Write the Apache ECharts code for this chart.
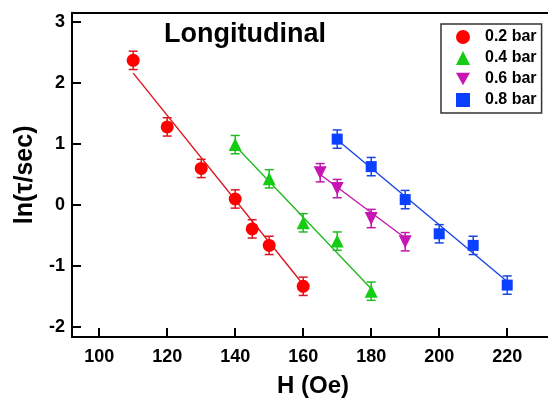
<!DOCTYPE html>
<html>
<head>
<meta charset="utf-8">
<script src="https://cdn.jsdelivr.net/npm/echarts@6/dist/echarts.min.js"></script>
<style>
html,body{margin:0;padding:0;background:#fff;}
#chart{width:548px;height:403px;}
</style>
</head>
<body>
<div id="chart"></div>
<script>
// ---- data ----
const seriesNames = ['0.2 bar', '0.4 bar', '0.6 bar', '0.8 bar'];
const xTicks = [100, 120, 140, 160, 180, 200, 220];
const yTicks = [-2, -1, 0, 1, 2, 3];

const h02 = [110, 120, 130, 140, 145, 150, 160];
const ln02 = [2.37, 1.28, 0.60, 0.10, -0.39, -0.66, -1.33];
const err02 = [0.15, 0.15, 0.15, 0.15, 0.15, 0.15, 0.15];

const h04 = [140, 150, 160, 170, 180];
const ln04 = [0.99, 0.43, -0.29, -0.59, -1.41];
const err04 = [0.15, 0.15, 0.15, 0.15, 0.15];

const h06 = [165, 170, 180, 190];
const ln06 = [0.53, 0.27, -0.22, -0.60];
const err06 = [0.15, 0.15, 0.15, 0.15];

const h08 = [170, 180, 190, 200, 210, 220];
const ln08 = [1.08, 0.63, 0.09, -0.47, -0.66, -1.31];
const err08 = [0.15, 0.15, 0.15, 0.15, 0.15, 0.15];

const fit02H = [110, 160], fit02Ln = [2.16, -1.30];
const fit04H = [140, 180], fit04Ln = [0.97, -1.37];
const fit06H = [165, 190], fit06Ln = [0.50, -0.54];
const fit08H = [170, 220], fit08Ln = [1.07, -1.25];

// ---- styling ----
const FONT = '"Liberation Sans", Arial, Helvetica, sans-serif';
const INV_TRI = 'path://M0,0L10,0L5,9Z';
const groups = [
  {name: seriesNames[0], h: h02, v: ln02, e: err02, fh: fit02H, fv: fit02Ln, color: '#ff0000', lineColor: '#dd1520', symbol: 'circle', size: 13, icon: 'circle'},
  {name: seriesNames[1], h: h04, v: ln04, e: err04, fh: fit04H, fv: fit04Ln, color: '#14cc14', lineColor: '#22bb22', symbol: 'triangle', size: 13, icon: 'triangle'},
  {name: seriesNames[2], h: h06, v: ln06, e: err06, fh: fit06H, fv: fit06Ln, color: '#c814b4', lineColor: '#c01aaa', symbol: INV_TRI, size: 13, icon: INV_TRI},
  {name: seriesNames[3], h: h08, v: ln08, e: err08, fh: fit08H, fv: fit08Ln, color: '#0a40ff', lineColor: '#1a46e0', symbol: 'rect', size: 11, icon: 'rect'}
];

const zip = (a, b) => a.map((x, i) => [x, b[i]]);
const zip3 = (a, b, c) => a.map((x, i) => [x, b[i], c[i]]);

const series = [];
groups.forEach(g => {
  series.push({
    name: g.name + ' fit',
    type: 'line',
    data: zip(g.fh, g.fv),
    symbol: 'none',
    silent: true,
    z: 1,
    lineStyle: {color: g.lineColor, width: 1.4}
  });
  series.push({
    name: g.name + ' err',
    type: 'custom',
    data: zip3(g.h, g.v, g.e),
    z: 2,
    silent: true,
    renderItem: function (params, api) {
      const x = api.value(0), y = api.value(1), e = api.value(2);
      const t = api.coord([x, y + e]);
      const b = api.coord([x, y - e]);
      const hw = 4.5;
      const st = {stroke: g.lineColor, lineWidth: 1.5};
      return {
        type: 'group',
        children: [
          {type: 'line', shape: {x1: t[0], y1: t[1], x2: b[0], y2: b[1]}, style: st},
          {type: 'line', shape: {x1: t[0] - hw, y1: t[1], x2: t[0] + hw, y2: t[1]}, style: st},
          {type: 'line', shape: {x1: b[0] - hw, y1: b[1], x2: b[0] + hw, y2: b[1]}, style: st}
        ]
      };
    }
  });
  series.push({
    name: g.name,
    type: 'scatter',
    data: zip(g.h, g.v),
    symbol: g.symbol,
    symbolSize: g.size,
    z: 3,
    itemStyle: {color: g.color, opacity: 1}
  });
});

const chart = echarts.init(document.getElementById('chart'), null, {renderer: 'canvas'});
chart.setOption({
  animation: false,
  backgroundColor: '#ffffff',
  title: {
    text: 'Longitudinal',
    left: 164,
    top: 21,
    padding: 0,
    textStyle: {fontFamily: FONT, fontSize: 27, fontWeight: 'bold', color: '#000'}
  },
  legend: {
    data: groups.map(g => ({name: g.name, icon: g.icon})),
    orient: 'vertical',
    left: 441,
    top: 24,
    padding: [5, 5, 5, 15],
    itemWidth: 14,
    itemHeight: 14,
    itemGap: 5,
    borderColor: '#333',
    borderWidth: 1.5,
    backgroundColor: '#fff',
    textStyle: {fontFamily: FONT, fontSize: 16, fontWeight: 'bold', color: '#000', padding: [0, 0, 0, 10]}
  },
  grid: {
    left: 72,
    top: 12.7,
    right: 0,
    height: 325,
    show: false,
    containLabel: false
  },
  xAxis: [{
    type: 'value',
    min: 92,
    max: 232,
    name: 'H (Oe)',
    nameLocation: 'middle',
    nameGap: 37,
    nameTextStyle: {fontFamily: FONT, fontSize: 24, fontWeight: 'bold', color: '#000', padding: [0, 0, 0, 6]},
    axisLine: {show: true, onZero: false, lineStyle: {color: '#000', width: 2}},
    axisTick: {show: true, inside: true, length: 9, lineStyle: {color: '#000', width: 2}, customValues: xTicks},
    axisLabel: {margin: 11, fontFamily: FONT, fontSize: 18, fontWeight: 'bold', color: '#000', customValues: xTicks},
    splitLine: {show: false}
  }, {
    type: 'value',
    position: 'top',
    min: 92,
    max: 232,
    axisLine: {show: true, onZero: false, lineStyle: {color: '#000', width: 2}},
    axisTick: {show: false},
    axisLabel: {show: false},
    splitLine: {show: false}
  }],
  yAxis: {
    type: 'value',
    min: -2.16,
    max: 3.15,
    name: 'ln(\u03c4/sec)',
    nameLocation: 'middle',
    nameGap: 29,
    nameTextStyle: {fontFamily: FONT, fontSize: 25, fontWeight: 'bold', color: '#000'},
    axisLine: {show: true, onZero: false, lineStyle: {color: '#000', width: 2}},
    axisTick: {show: true, inside: true, length: 9, lineStyle: {color: '#000', width: 2}, customValues: yTicks},
    axisLabel: {margin: 7, fontFamily: FONT, fontSize: 18, fontWeight: 'bold', color: '#000', customValues: yTicks},
    splitLine: {show: false}
  },
  series: series
});
</script>
</body>
</html>
